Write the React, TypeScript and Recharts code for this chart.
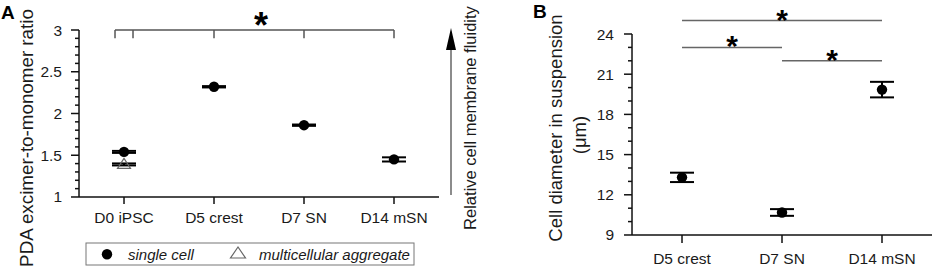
import { ComposedChart, Scatter, XAxis, YAxis, ErrorBar, ReferenceLine } from "recharts";

// panel A: PDA excimer-to-monomer ratio
const stagesA = ["D0 iPSC", "D5 crest", "D7 SN", "D14 mSN"];
const singleCellA = [1.54, 2.32, 1.86, 1.45];
const singleCellErrA = [0.012, 0.008, 0.008, 0.025];
const aggregateA = [1.39];
const aggregateErrA = [0.012];
const majorTicksA = [1, 1.5, 2, 2.5, 3];
const minorTicksA = [1.1, 1.2, 1.3, 1.4, 1.6, 1.7, 1.8, 1.9, 2.1, 2.2, 2.3, 2.4, 2.6, 2.7, 2.8, 2.9];
// bracket over all stages, drops at these stage positions
const bracketDropsA = [-0.1, 0.1, 1, 2, 3];

// panel B: cell diameter
const stagesB = ["D5 crest", "D7 SN", "D14 mSN"];
const diameterB = [13.3, 10.68, 19.85];
const diameterErrB = [0.35, 0.25, 0.58];
const majorTicksB = [9, 12, 15, 18, 21, 24];
const minorTicksB = [10, 11, 13, 14, 16, 17, 19, 20, 22, 23];
// [from stage, to stage, height]
const pairsB: [number, number, number][] = [
  [0, 2, 25],
  [0, 1, 23],
  [1, 2, 22],
];

const FONT = '"Liberation Sans", Arial, sans-serif';
const INK = "#1a1a1a";
// axes take (almost) no room so the plot edges sit on the margins
const THIN = 0.01;

const singleRowsA = stagesA.map((_, i) => ({ x: i, y: singleCellA[i], err: singleCellErrA[i] }));
const aggRowsA = aggregateA.map((v, i) => ({ x: i, y: v, err: aggregateErrA[i] }));
const rowsB = stagesB.map((_, i) => ({ x: i, y: diameterB[i], err: diameterErrB[i] }));

const Dot = (p: any) => <circle cx={p.cx} cy={p.cy} r={5.2} fill="#000" />;
const Tri = (p: any) => (
  <polygon
    points={`${p.cx},${p.cy - 6} ${p.cx - 6.5},${p.cy + 4} ${p.cx + 6.5},${p.cy + 4}`}
    fill="none"
    stroke="#666"
    strokeWidth={1.2}
  />
);

function Star({ viewBox, dx = 0, drop = 0, size = 28 }: any) {
  if (!viewBox) return null;
  const { x, y, width } = viewBox;
  return (
    <text
      x={x + (width || 0) / 2 + dx}
      y={y + drop}
      textAnchor="middle"
      fontSize={size}
      fontWeight="bold"
      fontFamily={FONT}
      fill="#000"
    >
      *
    </text>
  );
}

const axisStyle = { stroke: "#111", strokeWidth: 1.5 };
const tickStyle = { fill: INK, fontSize: 15.5, fontFamily: FONT };

function PanelA() {
  return (
    <ComposedChart width={490} height={274} margin={{ top: 30, right: 51, bottom: 77, left: 79 }}>
      <XAxis
        type="number"
        dataKey="x"
        domain={[-0.5, 3.5]}
        ticks={[0, 1, 2, 3]}
        interval={0}
        tickFormatter={(v: number) => stagesA[v]}
        height={THIN}
        tickSize={7}
        tickMargin={8}
        axisLine={axisStyle}
        tickLine={axisStyle}
        tick={tickStyle}
      />
      <YAxis
        yAxisId="a"
        type="number"
        domain={[1, 3]}
        ticks={majorTicksA}
        interval={0}
        width={THIN}
        tickSize={8}
        tickMargin={9}
        axisLine={axisStyle}
        tickLine={axisStyle}
        tick={tickStyle}
      />
      {/* minor ticks, 4px long (90px per stage) */}
      {minorTicksA.map((v) => (
        <ReferenceLine
          key={`m${v}`}
          yAxisId="a"
          segment={[{ x: -0.5, y: v }, { x: -0.5 - 4 / 90, y: v }]}
          stroke="#111"
          strokeWidth={1.5}
          ifOverflow="visible"
        />
      ))}
      <ReferenceLine
        yAxisId="a"
        segment={[{ x: bracketDropsA[0], y: 3 }, { x: bracketDropsA[bracketDropsA.length - 1], y: 3 }]}
        stroke="#555"
        strokeWidth={1.5}
        ifOverflow="visible"
        label={<Star dx={6.5} drop={8} size={36} />}
      />
      {bracketDropsA.map((d) => (
        <ReferenceLine
          key={d}
          yAxisId="a"
          segment={[{ x: d, y: 3 }, { x: d, y: 2.9 }]}
          stroke="#555"
          strokeWidth={1.5}
          ifOverflow="visible"
        />
      ))}
      <Scatter yAxisId="a" data={aggRowsA} dataKey="y" shape={Tri} isAnimationActive={false}>
        <ErrorBar dataKey="err" direction="y" width={12} strokeWidth={2} stroke="#000" />
      </Scatter>
      <Scatter yAxisId="a" data={singleRowsA} dataKey="y" shape={Dot} isAnimationActive={false}>
        <ErrorBar dataKey="err" direction="y" width={12} strokeWidth={2} stroke="#000" />
      </Scatter>
      <text x={1} y={19} fontSize={19} fontWeight="bold" fontFamily={FONT} fill="#000">
        A
      </text>
      <text
        x={33}
        y={138}
        transform="rotate(-90, 33, 138)"
        textAnchor="middle"
        fontSize={18.8}
        fontFamily={FONT}
        fill={INK}
      >
        PDA excimer-to-monomer ratio
      </text>
      <line x1={451} y1={195} x2={451} y2={46} stroke="#666" strokeWidth={1.5} />
      <polygon points="451,28 446,50 456,50" fill="#000" />
      <text
        x={476}
        y={118}
        transform="rotate(-90, 476, 118)"
        textAnchor="middle"
        fontSize={16.5}
        fontFamily={FONT}
        fill={INK}
      >
        Relative cell membrane fluidity
      </text>
    </ComposedChart>
  );
}

function PanelB() {
  return (
    <ComposedChart width={444} height={274} margin={{ top: 34, right: 2, bottom: 39, left: 142 }}>
      <XAxis
        type="number"
        dataKey="x"
        domain={[-0.5, 2.5]}
        ticks={[0, 1, 2]}
        interval={0}
        tickFormatter={(v: number) => stagesB[v]}
        height={THIN}
        tickSize={8}
        tickMargin={10}
        axisLine={axisStyle}
        tickLine={axisStyle}
        tick={tickStyle}
      />
      <YAxis
        yAxisId="a"
        type="number"
        domain={[9, 24]}
        ticks={majorTicksB}
        interval={0}
        width={THIN}
        tickSize={8}
        tickMargin={10}
        axisLine={axisStyle}
        tickLine={axisStyle}
        tick={tickStyle}
      />
      {/* minor ticks, 4px long (100px per stage) */}
      {minorTicksB.map((v) => (
        <ReferenceLine
          key={`m${v}`}
          yAxisId="a"
          segment={[{ x: -0.5, y: v }, { x: -0.5 - 4 / 100, y: v }]}
          stroke="#111"
          strokeWidth={1.5}
          ifOverflow="visible"
        />
      ))}
      {pairsB.map(([a, b, h]) => (
        <ReferenceLine
          key={`${a}-${b}`}
          yAxisId="a"
          segment={[{ x: a, y: h }, { x: b, y: h }]}
          stroke="#666"
          strokeWidth={1.5}
          ifOverflow="visible"
          label={<Star drop={9} size={30} />}
        />
      ))}
      <Scatter yAxisId="a" data={rowsB} dataKey="y" shape={Dot} isAnimationActive={false}>
        <ErrorBar dataKey="err" direction="y" width={12} strokeWidth={2} stroke="#000" />
      </Scatter>
      <text x={43} y={18} fontSize={19} fontWeight="bold" fontFamily={FONT} fill="#000">
        B
      </text>
      <text
        x={72}
        y={128}
        transform="rotate(-90, 72, 128)"
        textAnchor="middle"
        fontSize={18.5}
        fontFamily={FONT}
        fill={INK}
      >
        Cell diameter in suspension
      </text>
      <text
        x={96}
        y={135}
        transform="rotate(-90, 96, 135)"
        textAnchor="middle"
        fontSize={18.5}
        fontFamily={FONT}
        fill={INK}
      >
        (μm)
      </text>
    </ComposedChart>
  );
}

function LegendA() {
  return (
    <svg
      width={330}
      height={24}
      style={{ position: "absolute", left: 85, top: 242 }}
      fontFamily={FONT}
    >
      <rect x={1} y={1} width={328} height={22} fill="#fff" stroke="#777" strokeWidth={1} />
      <circle cx={22} cy={12.3} r={5.2} fill="#000" />
      <text x={43} y={17.5} fontSize={15} fontStyle="italic" fill={INK}>
        single cell
      </text>
      <polygon points="153,5 145.5,16 160.5,16" fill="none" stroke="#666" strokeWidth={1.2} />
      <text x={174} y={17.5} fontSize={15} fontStyle="italic" fill={INK}>
        multicellular aggregate
      </text>
    </svg>
  );
}

export default function App() {
  return (
    <div style={{ position: "absolute", left: 0, top: 0, width: 934, height: 274, background: "#fff" }}>
      <div style={{ position: "absolute", left: 0, top: 0 }}>
        <PanelA />
      </div>
      <div style={{ position: "absolute", left: 490, top: 0 }}>
        <PanelB />
      </div>
      <LegendA />
    </div>
  );
}
